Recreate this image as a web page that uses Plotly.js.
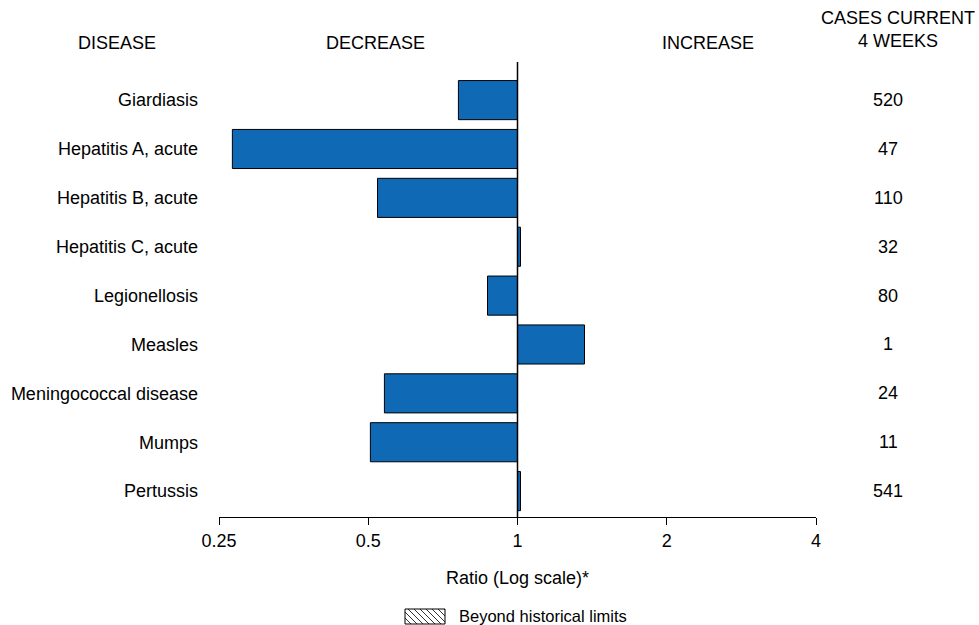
<!DOCTYPE html>
<html>
<head>
<script src="https://cdn.plot.ly/plotly-3.0.1.min.js"></script>
<style>body{margin:0}#chart{width:979px;height:625px}</style>
</head>
<body>
<div id="chart"></div>
<script>
const diseases = ["Giardiasis", "Hepatitis A, acute", "Hepatitis B, acute", "Hepatitis C, acute",
  "Legionellosis", "Measles", "Meningococcal disease", "Mumps", "Pertussis"];
const ratios = [0.76, 0.266, 0.522, 1.014, 0.87, 1.365, 0.539, 0.505, 1.014];
const cases = [520, 47, 110, 32, 80, 1, 24, 11, 541];
const tickRatios = [0.25, 0.5, 1, 2, 4];

const idx = diseases.map((d, i) => i);
const font = { family: "Liberation Sans, Arial, sans-serif", size: 18, color: "#000" };

const trace = {
  type: "bar",
  orientation: "h",
  y: idx,
  x: ratios.map(r => Math.log2(r)),
  base: 0,
  width: 0.8,
  marker: { color: "#0f69b4", line: { color: "#000", width: 1 } },
  hoverinfo: "skip"
};

const annotations = [
  { text: "DISEASE", x: 117, y: 43 },
  { text: "DECREASE", x: 375, y: 43 },
  { text: "INCREASE", x: 708, y: 43 },
  { text: "CASES CURRENT<br>4 WEEKS", x: 898, y: 29 }
].map(a => ({ text: a.text, xref: "paper", yref: "paper", x: (a.x - 219) / 597, y: (517 - a.y) / 455,
  showarrow: false, xanchor: "center", yanchor: "middle", font: font }));

cases.forEach((c, i) => annotations.push({
  text: String(c), xref: "paper", yref: "y", x: (888 - 219) / 597, y: i,
  showarrow: false, xanchor: "center", yanchor: "middle", font: font
}));
annotations.push({ text: "Beyond historical limits", xref: "paper", yref: "paper",
  x: (457 - 219) / 597, y: (517 - 616) / 455, xanchor: "left", yanchor: "middle", showarrow: false,
  font: { family: font.family, size: 16.5, color: "#000" } });

// hatched legend box
const bx0 = 405, bx1 = 445, by0 = 609, by1 = 624;
const px = v => (v - 219) / 597, py = v => (517 - v) / 455;
const shapes = [
  { type: "line", xref: "x", yref: "paper", x0: 0, x1: 0, y0: 0, y1: 1, line: { color: "#000", width: 1.5 } },
  { type: "rect", xref: "paper", yref: "paper", x0: px(bx0), x1: px(bx1), y0: py(by1), y1: py(by0), line: { color: "#000", width: 1 } }
];
for (let s = bx0 - 15; s < bx1; s += 6) {
  let xa = Math.max(s, bx0), xb = Math.min(s + 15, bx1);
  let ya = by0 + (xa - s), yb = by0 + (xb - s);
  shapes.push({ type: "line", xref: "paper", yref: "paper", x0: px(xa), x1: px(xb), y0: py(ya), y1: py(yb),
    line: { color: "#000", width: 0.8 } });
}

const layout = {
  width: 979, height: 625,
  margin: { l: 219, r: 163, t: 62, b: 108 },
  paper_bgcolor: "#fff", plot_bgcolor: "#fff",
  font: font,
  showlegend: false,
  bargap: 0.2,
  xaxis: {
    range: [-2, 2],
    tickvals: tickRatios.map(r => Math.log2(r)),
    ticktext: tickRatios.map(String),
    ticks: "outside", ticklen: 7, tickcolor: "#000",
    showline: true, linecolor: "#000", linewidth: 1,
    showgrid: false, zeroline: false,
    title: { text: "Ratio (Log scale)*", font: font, standoff: 21 }
  },
  yaxis: {
    range: [8.53, -0.78],
    tickvals: idx, ticktext: diseases,
    showline: false, showgrid: false, zeroline: false, ticks: "",
    ticklabelstandoff: 20
  },
  annotations: annotations,
  shapes: shapes
};

Plotly.newPlot("chart", [trace], layout, { displayModeBar: false });
</script>
</body>
</html>
